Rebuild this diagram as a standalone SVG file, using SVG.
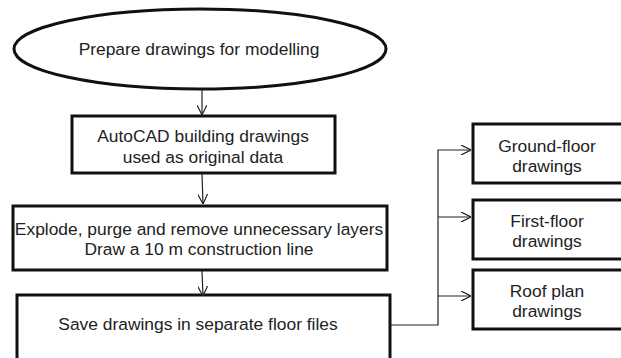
<svg xmlns="http://www.w3.org/2000/svg" width="621" height="358" viewBox="0 0 621 358">
<defs>
<marker id="arr" viewBox="0 0 10 10" refX="10" refY="5" markerWidth="10" markerHeight="10" markerUnits="userSpaceOnUse" orient="auto">
<path d="M0,0 L10,5 L0,10" fill="none" stroke="#222" stroke-width="1.2"/>
</marker>
<style>
.box{fill:#fff;stroke:#111;stroke-width:3}
.t{font-family:"Liberation Sans",Arial,sans-serif;font-size:17.4px;fill:#222;text-anchor:middle}
.c{fill:none;stroke:#222;stroke-width:1.2}
</style>
</defs>
<rect width="621" height="358" fill="#fff"/>
<g id="n-prepare">
<ellipse cx="200" cy="49" rx="186" ry="40" class="box"/>
<text x="199" y="55" class="t">Prepare drawings for modelling</text>
</g>
<g id="n-autocad">
<rect x="72" y="116" width="263" height="57" class="box"/>
<text x="203" y="142" class="t">AutoCAD building drawings</text>
<text x="203" y="163" class="t">used as original data</text>
</g>
<g id="n-explode">
<rect x="13" y="206" width="374" height="64" class="box"/>
<text x="199" y="235" class="t">Explode, purge and remove unnecessary layers</text>
<text x="199" y="255" class="t">Draw a 10 m construction line</text>
</g>
<g id="n-save">
<rect x="17" y="295" width="373" height="70" class="box"/>
<text x="198" y="330" class="t">Save drawings in separate floor files</text>
</g>
<g id="n-ground">
<rect x="473" y="124" width="150" height="59" class="box"/>
<text x="547" y="152" class="t">Ground-floor</text>
<text x="547" y="172" class="t">drawings</text>
</g>
<g id="n-first">
<rect x="473" y="200" width="150" height="59" class="box"/>
<text x="547" y="227" class="t">First-floor</text>
<text x="547" y="247" class="t">drawings</text>
</g>
<g id="n-roof">
<rect x="473" y="270" width="150" height="59" class="box"/>
<text x="547" y="297" class="t">Roof plan</text>
<text x="547" y="317" class="t">drawings</text>
</g>
<g id="connectors">
<line x1="202" y1="89" x2="202" y2="115" class="c" marker-end="url(#arr)"/>
<line x1="202" y1="174" x2="203" y2="204" class="c" marker-end="url(#arr)"/>
<line x1="202" y1="271" x2="203" y2="296" class="c" marker-end="url(#arr)"/>
<polyline points="390,325 438,325 438,150 471,150" class="c" marker-end="url(#arr)"/>
<line x1="438" y1="217" x2="471" y2="217" class="c" marker-end="url(#arr)"/>
<line x1="438" y1="296" x2="471" y2="296" class="c" marker-end="url(#arr)"/>
</g>
</svg>
